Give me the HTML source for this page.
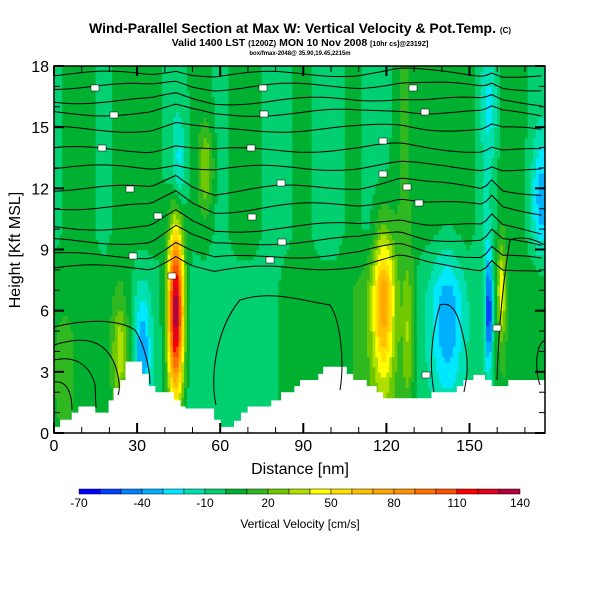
<!DOCTYPE html>
<html><head><meta charset="utf-8">
<style>
html,body{margin:0;padding:0;background:#fff;}
svg{display:block;font-family:"Liberation Sans",sans-serif;}
</style></head>
<body>
<svg id="chart" width="600" height="600" viewBox="0 0 600 600">
  <text x="300" y="33" text-anchor="middle" font-size="14" font-weight="bold">Wind-Parallel Section at Max W: Vertical Velocity &amp; Pot.Temp. <tspan font-size="8">(C)</tspan></text>
  <text x="300" y="46" text-anchor="middle" font-size="10.5" font-weight="bold">Valid 1400 LST <tspan font-size="8">(1200Z)</tspan> MON 10 Nov 2008 <tspan font-size="7">[10hr cs]@2319Z]</tspan></text>
  <text x="300" y="55" text-anchor="middle" font-size="6" font-weight="bold">box/fmax-2048@ 35.90,19.45,2215m</text>
  <g id="field"></g>
  <g id="terrain"></g>
  <g id="contours"></g>
  <g id="axes"></g>
  <g id="colorbar"></g>
  <text x="300" y="528" text-anchor="middle" font-size="12">Vertical Velocity [cm/s]</text>
  <text x="300" y="474" text-anchor="middle" font-size="16">Distance [nm]</text>
  <text x="20" y="250" text-anchor="middle" font-size="16" transform="rotate(-90 20 250)">Height [Kft MSL]</text>
</svg>
<script>
// ---- data ----
const xTicks = [0,30,60,90,120,150];
const yTicks = [0,3,6,9,12,15,18];
const cbTicks = [-70,-40,-10,20,50,80,110,140];
const cbColors = ['#0000ff','#0040ff','#0080ff','#00b0ff','#00e8ff','#00e0b0','#00d070','#00b030','#30b820','#70c800','#b0e000','#ffff00','#ffe000','#ffc000','#ffa800','#ff9000','#ff7000','#ff5000','#ff0000','#e00020','#b00040'];
const baseNodesX = [0,6,12,18,24,30,36,42,48,54,60,66,72,78,84,90,96,102,108,114,120,126,132,138,144,150,156,162,168,174,180];
const upperBase = [-5,5,5,-5,5,5,5,-5,0,5,-5,5,5,-5,-3,5,-5,-5,5,-5,-5,12,5,5,5,5,-12,8,5,-5,-8];
const lowerBase = [8,8,5,5,10,-5,-5,0,-5,-5,-5,-5,-5,-5,5,5,5,5,10,15,15,10,-5,-8,-8,-5,-5,10,5,10,10];
const featX   = [44, 32, 45, 55, 24, 119, 128, 142, 157, 161.5, 176, 158, 4];
const featY   = [6,  4,  13, 13, 4,  6.5, 5,   5.5, 6,   7,     11.5,16,  3];
const featSX  = [2,  2,  1.8,2,  2,  2.8, 1.5, 4,   0.9, 1,     2.5, 2,   3];
const featSY  = [3,  2,  1.8,1.5,1.5,2.8, 2.5, 2.5, 2,   1.5,   2,   2,   2];
const featAmp = [140,-35,-25,25, 28, 62,  25,  -30, -58, 40,    -30, -15, 5];
const terrainX = [0,2.2,6.4,8.8,14.9,19.7,21.5,23.9,25.8,31.8,34.2,36.6,43.3,45.7,47.5,57.8,60.2,65,67.5,69.9,78.4,82,86.8,88.8,95.4,97.2,105.7,108,112.9,116.5,118.8,136.3,145.4,147.8,151.4,155.6,158,164,178];
const terrainH = [0.3,0.65,1.0,1.3,1.0,1.6,2.2,2.6,3.5,2.9,2.3,2.0,1.6,1.3,1.2,0.65,0.3,0.6,1.0,1.3,1.6,2.0,2.3,2.6,2.9,3.25,2.9,2.6,2.3,2.0,1.7,2.0,2.3,2.6,2.85,2.6,2.3,2.6,2.6];
const thetaLevels = [8.1,8.7,9.4,10.1,11.1,12.0,13.0,13.9,14.9,15.7,16.3,17.0,17.6];
const pertX = [0,35,44,50,58,80,110,125,135,155,158,162,178];
const pertY = [0,0,0.7,0.2,-0.2,0,0.1,0.5,0.2,0,0.5,0,-0.3];

// ---- axis functions ----
const X0=54, X1=545, Y0=433, Y1=66, XMAX=(X1-X0)/2.77;
const sx = v => X0 + v*2.77;
const sy = v => Y0 - (v/18)*(Y0-Y1);
const NS='http://www.w3.org/2000/svg';
function mk(tag, attrs, parent){const e=document.createElementNS(NS,tag);for(const k in attrs)e.setAttribute(k,attrs[k]);parent.appendChild(e);return e;}
function interp(xs, ys, x){ if(x<=xs[0])return ys[0]; for(let i=1;i<xs.length;i++){ if(x<=xs[i]){const t=(x-xs[i-1])/(xs[i]-xs[i-1]);return ys[i-1]+t*(ys[i]-ys[i-1]);} } return ys[ys.length-1]; }
function colorFor(v){ let i=Math.floor((v+70)/10); i=Math.max(0,Math.min(20,i)); return cbColors[i]; }
function fieldVal(x,y){
  const ub=interp(baseNodesX,upperBase,x), lb=interp(baseNodesX,lowerBase,x);
  let t=(y-7)/3; t=Math.max(0,Math.min(1,t));
  let v=lb*(1-t)+ub*t;
  for(let i=0;i<featX.length;i++){
    const dx=(x-featX[i])/featSX[i], dy=(y-featY[i])/featSY[i];
    v+=featAmp[i]*Math.exp(-0.5*(dx*dx+dy*dy));
  }
  return v;
}

// ---- field ----
const field=document.getElementById('field');
const DX=1, DY=0.25;
for(let x=0;x<XMAX;x+=DX){
  for(let y=0;y<18;y+=DY){
    const r=mk('rect',{x:sx(x).toFixed(2),y:sy(y+DY).toFixed(2),width:(DX*2.77+0.6).toFixed(2),height:(DY/18*(Y0-Y1)+0.6).toFixed(2),fill:colorFor(fieldVal(x+DX/2,y+DY/2))},field);
    
    
  }
}
const clip=mk('clipPath',{id:'pc'},document.getElementById('chart'));
mk('rect',{x:X0,y:Y1,width:X1-X0,height:Y0-Y1},clip);
field.setAttribute('clip-path','url(#pc)');

// ---- terrain ----
const terr=document.getElementById('terrain');
let d='M'+sx(0)+' '+Y0;
for(let i=0;i<terrainX.length;i++){
  const xa=Math.min(X1,sx(terrainX[i])), xb=i+1<terrainX.length?Math.min(X1,sx(terrainX[i+1])):X1;
  d+=' L'+xa.toFixed(1)+' '+sy(terrainH[i]).toFixed(1)+' L'+xb.toFixed(1)+' '+sy(terrainH[i]).toFixed(1);
}
d+=' L'+X1+' '+Y0+' Z';
const tp=mk('path',{d:d,fill:'#fff',stroke:'none'},terr);



// ---- contours ----
const cg=document.getElementById('contours');
cg.setAttribute('clip-path','url(#pc)');
thetaLevels.forEach((lv,k)=>{
  let p='';
  const amp = lv<12.5 ? 1 : 0.4;
  for(let x=0;x<=XMAX;x+=2){
    const y=lv+amp*interp(pertX,pertY,x)+0.15*Math.sin(x/9+k);
    p+=(p?' L':'M')+sx(x).toFixed(1)+' '+sy(y).toFixed(1);
  }
  const c=mk('path',{d:p,fill:'none',stroke:'#000','stroke-width':1},cg);
  
  
});
const extra=[
  'M54 327 C90 318 120 320 135 330 C145 345 150 370 150 384',
  'M54 345 C85 335 105 340 115 365 C120 380 120 390 118 395',
  'M54 360 C75 355 90 365 95 385 L96 408',
  'M54 382 C68 380 72 395 72 410',
  'M216 405 C210 380 215 330 240 300 C270 290 300 300 330 305 C340 320 345 360 340 390',
  'M434 392 C430 370 430 340 440 305 C455 300 460 320 465 345 C470 370 465 385 464 392',
  'M497 380 C498 350 500 300 510 240 C525 235 535 240 545 245',
  'M545 340 C535 345 535 370 540 385'
];
extra.forEach(p=>{
  const c=mk('path',{d:p,fill:'none',stroke:'#000','stroke-width':1},cg);
  
  
});
[[95,88],[114,115],[102,148],[130,189],[158,216],[133,256],[172,276],[263,88],[264,114],[251,148],[281,183],[252,217],[282,242],[270,260],[413,88],[425,112],[383,141],[383,174],[407,187],[419,203],[426,375],[497,328]].forEach(([x,y])=>{
  const l=mk('rect',{x:x-4,y:y-3,width:8,height:6,fill:'#fff',stroke:'#000','stroke-width':0.5},cg);
  
  
});

// ---- axes ----
const ax=document.getElementById('axes');
mk('rect',{x:X0,y:Y1,width:X1-X0,height:Y0-Y1,fill:'none',stroke:'#000','stroke-width':1.5},ax);
for(let v=0;v<=XMAX;v+=10){
  const major=v%30===0, L=major?10:6;
  mk('line',{x1:sx(v),y1:Y0,x2:sx(v),y2:Y0-L,stroke:'#000','stroke-width':major?2:1},ax);
  mk('line',{x1:sx(v),y1:Y1,x2:sx(v),y2:Y1+L,stroke:'#000','stroke-width':major?2:1},ax);
}
for(let v=0;v<=18;v+=1){
  const major=v%3===0, L=major?10:6;
  mk('line',{x1:X0,y1:sy(v),x2:X0+L,y2:sy(v),stroke:'#000','stroke-width':major?2:1},ax);
  mk('line',{x1:X1,y1:sy(v),x2:X1-L,y2:sy(v),stroke:'#000','stroke-width':major?2:1},ax);
}
xTicks.forEach(v=>{
  const t=mk('text',{x:sx(v),y:Y0+18,'text-anchor':'middle','font-size':16},ax);
  t.textContent=v;
  
  
});
yTicks.forEach(v=>{
  const t=mk('text',{x:X0-5,y:sy(v)+6,'text-anchor':'end','font-size':16},ax);
  t.textContent=v;
  
  
});

// ---- colorbar ----
const cb=document.getElementById('colorbar');
const CB0=79, CB1=520, bw=(CB1-CB0)/cbColors.length;
cbColors.forEach((c,i)=>{
  const r=mk('rect',{x:CB0+i*bw,y:489,width:bw,height:5,fill:c,stroke:'#000','stroke-width':0.5},cb);
  
  
});
cbTicks.forEach(v=>{
  const t=mk('text',{x:CB0+(v+70)/210*(CB1-CB0),y:507,'text-anchor':'middle','font-size':12},cb);
  t.textContent=v;
  
  
});
</script>
</body></html>
